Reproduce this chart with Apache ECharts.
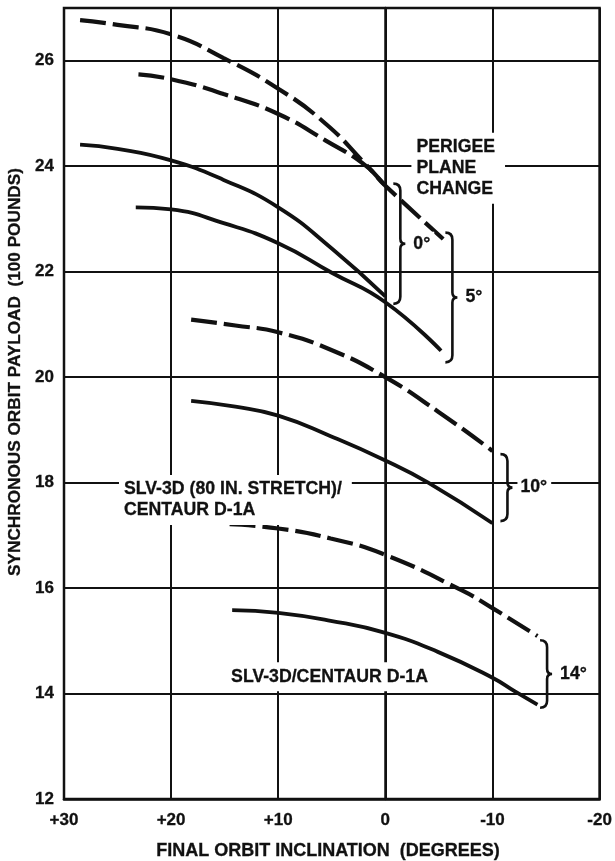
<!DOCTYPE html>
<html>
<head>
<meta charset="utf-8">
<script src="https://cdn.jsdelivr.net/npm/echarts@6/dist/echarts.min.js"></script>
<style>
  html, body { margin: 0; padding: 0; background: #fff; }
  #chart { width: 615px; height: 861px; }
</style>
</head>
<body>
<div id="chart"></div>
<script>
// Axis ticks
const xTicks = [30, 20, 10, 0, -10, -20];
const yTicks = [12, 14, 16, 18, 20, 22, 24, 26];

// Payload curves: [final orbit inclination (deg), payload (100 lb)]
// Dashed = SLV-3D (80 in. stretch)/Centaur D-1A, solid = SLV-3D/Centaur D-1A
const stretch0 = [[28.5, 26.77], [25, 26.68], [20, 26.5], [15.1, 26.05], [10, 25.47], [5.6, 24.81], [1.9, 24.05], [0, 23.63]];
const stretch5 = [[23.05, 25.74], [20, 25.65], [15.1, 25.37], [10, 24.99], [5.6, 24.49], [1.9, 24.02], [0, 23.63], [-5.4, 22.62]];
const stretch10 = [[18.13, 21.09], [14, 20.98], [10, 20.85], [5.1, 20.52], [0, 20.0], [-4.9, 19.35], [-10, 18.6]];
const stretch14 = [[14.54, 17.21], [10, 17.13], [5.1, 16.94], [0, 16.63], [-7.2, 15.95], [-10, 15.62], [-14.2, 15.09]];

const base0 = [[28.5, 24.41], [25, 24.33], [20, 24.11], [15.1, 23.74], [10, 23.22], [5, 22.44], [0, 21.53]];
const base5 = [[23.3, 23.22], [20, 23.18], [15.1, 22.92], [10, 22.54], [5, 21.98], [0, 21.42], [-5.2, 20.5]];
const base10 = [[18.13, 19.55], [14, 19.44], [10, 19.27], [5.1, 18.88], [0, 18.42], [-4, 18.0], [-10, 17.23]];
const base14 = [[14.3, 15.58], [10, 15.53], [5.1, 15.38], [0, 15.15], [-4.9, 14.79], [-10, 14.3], [-12.1, 14.04], [-14.2, 13.79]];

// Perigee plane change braces: [x, top payload, bottom payload, label]
const braces = [
  [-1.4, 23.67, 21.39, '0°'],
  [-6.26, 22.74, 20.28, '5°'],
  [-11.4, 18.54, 17.27, '10°'],
  [-15.1, 15.01, 13.73, '14°']
];

// Free-standing notes: [x, payload, text]
const notes = [
  [-2.9, 23.96, 'PERIGEE\nPLANE\nCHANGE'],
  [24.4, 17.67, 'SLV-3D (80 IN. STRETCH)/\nCENTAUR D-1A'],
  [14.4, 14.32, 'SLV-3D/CENTAUR D-1A']
];

const FONT_FAMILY = '"Liberation Sans", Arial, Helvetica, sans-serif';
const INK = '#111';
const NOTE_FONT = 'bold 17.7px ' + FONT_FAMILY;

const curve = (name, data, dashed) => ({
  name: name,
  type: 'line',
  data: data,
  smooth: 0.5,
  showSymbol: false,
  symbol: 'none',
  lineStyle: { color: INK, width: dashed ? 4.2 : 3.8, type: dashed ? [26, 7] : 'solid', cap: 'butt' },
  z: 3
});

const chart = echarts.init(document.getElementById('chart'), null, { renderer: 'canvas' });

const labelStyle = {
  color: INK,
  fontSize: 17, fontWeight: 'bold', fontFamily: FONT_FAMILY,
  textBorderColor: INK, textBorderWidth: 0.3
};

chart.setOption({
  backgroundColor: '#fff',
  animation: false,
  grid: { left: 64, right: 11, top: 8, bottom: 62, show: true, borderColor: INK, borderWidth: 2.5, backgroundColor: 'transparent' },
  xAxis: {
    type: 'value',
    inverse: true,
    min: -20, max: 30, interval: 10,
    axisLine: { show: true, lineStyle: { color: INK, width: 2.5 } },
    axisTick: { show: false },
    splitLine: { show: true, lineStyle: { color: INK, width: 2 } },
    axisLabel: Object.assign({
      margin: 13,
      formatter: v => (xTicks.indexOf(v) < 0 ? '' : (v > 0 ? '+' + v : String(v)))
    }, labelStyle)
  },
  yAxis: {
    type: 'value',
    min: 12, max: 27, interval: 2,
    axisLine: { show: true, lineStyle: { color: INK, width: 2.5 } },
    axisTick: { show: false },
    splitLine: { show: true, lineStyle: { color: INK, width: 2 } },
    axisLabel: Object.assign({
      margin: 10,
      formatter: v => (yTicks.indexOf(v) < 0 ? '' : String(v))
    }, labelStyle)
  },
  graphic: [
    {
      type: 'text', x: 15, y: 372, rotation: Math.PI / 2, z: 10,
      style: {
        text: 'SYNCHRONOUS ORBIT PAYLOAD  (100 POUNDS)', font: 'bold 17.2px ' + FONT_FAMILY,
        fill: INK, stroke: INK, lineWidth: 0.3, align: 'center', verticalAlign: 'middle'
      }
    },
    {
      type: 'text', x: 328, y: 851, z: 10,
      style: {
        text: 'FINAL ORBIT INCLINATION  (DEGREES)', font: 'bold 18px ' + FONT_FAMILY,
        fill: INK, stroke: INK, lineWidth: 0.3, align: 'center', verticalAlign: 'middle'
      }
    }
  ],
  series: [
    curve('0° SLV-3D (80 IN. STRETCH)/CENTAUR D-1A', stretch0, true),
    curve('5° SLV-3D (80 IN. STRETCH)/CENTAUR D-1A', stretch5, true),
    curve('10° SLV-3D (80 IN. STRETCH)/CENTAUR D-1A', stretch10, true),
    curve('14° SLV-3D (80 IN. STRETCH)/CENTAUR D-1A', stretch14, true),
    curve('0° SLV-3D/CENTAUR D-1A', base0, false),
    curve('5° SLV-3D/CENTAUR D-1A', base5, false),
    curve('10° SLV-3D/CENTAUR D-1A', base10, false),
    curve('14° SLV-3D/CENTAUR D-1A', base14, false),
    {
      name: 'braces',
      type: 'custom',
      data: braces,
      z: 4,
      renderItem: (params, api) => {
        const top = api.coord([api.value(0), api.value(1)]);
        const bot = api.coord([api.value(0), api.value(2)]);
        const x = top[0], y1 = top[1], y2 = bot[1], ym = (y1 + y2) / 2;
        const c = 7, t = 5;
        const d = 'M' + (x - c) + ',' + y1 +
          ' Q' + x + ',' + y1 + ' ' + x + ',' + (y1 + c) +
          ' L' + x + ',' + (ym - t) +
          ' Q' + x + ',' + ym + ' ' + (x + t) + ',' + ym +
          ' Q' + x + ',' + ym + ' ' + x + ',' + (ym + t) +
          ' L' + x + ',' + (y2 - c) +
          ' Q' + x + ',' + y2 + ' ' + (x - c) + ',' + y2;
        return {
          type: 'group',
          children: [
            { type: 'path', shape: { pathData: d }, style: { fill: 'none', stroke: INK, lineWidth: 2.6 } },
            {
              type: 'text',
              style: {
                text: braces[params.dataIndex][3], x: x + 10, y: ym,
                font: NOTE_FONT, fill: INK, stroke: INK, lineWidth: 0.3,
                verticalAlign: 'middle', align: 'left',
                backgroundColor: '#fff', padding: [3, 4, 3, 3]
              }
            }
          ]
        };
      }
    },
    {
      name: 'notes',
      type: 'custom',
      data: notes,
      z: 5,
      renderItem: (params, api) => {
        const p = api.coord([api.value(0), api.value(1)]);
        return {
          type: 'text',
          style: {
            text: notes[params.dataIndex][2], x: p[0] - 5, y: p[1],
            font: NOTE_FONT, fill: INK, stroke: INK, lineWidth: 0.3,
            align: 'left', verticalAlign: 'middle',
            lineHeight: 21, backgroundColor: '#fff', padding: [4, 10, 4, 5]
          }
        };
      }
    }
  ]
});
</script>
</body>
</html>
